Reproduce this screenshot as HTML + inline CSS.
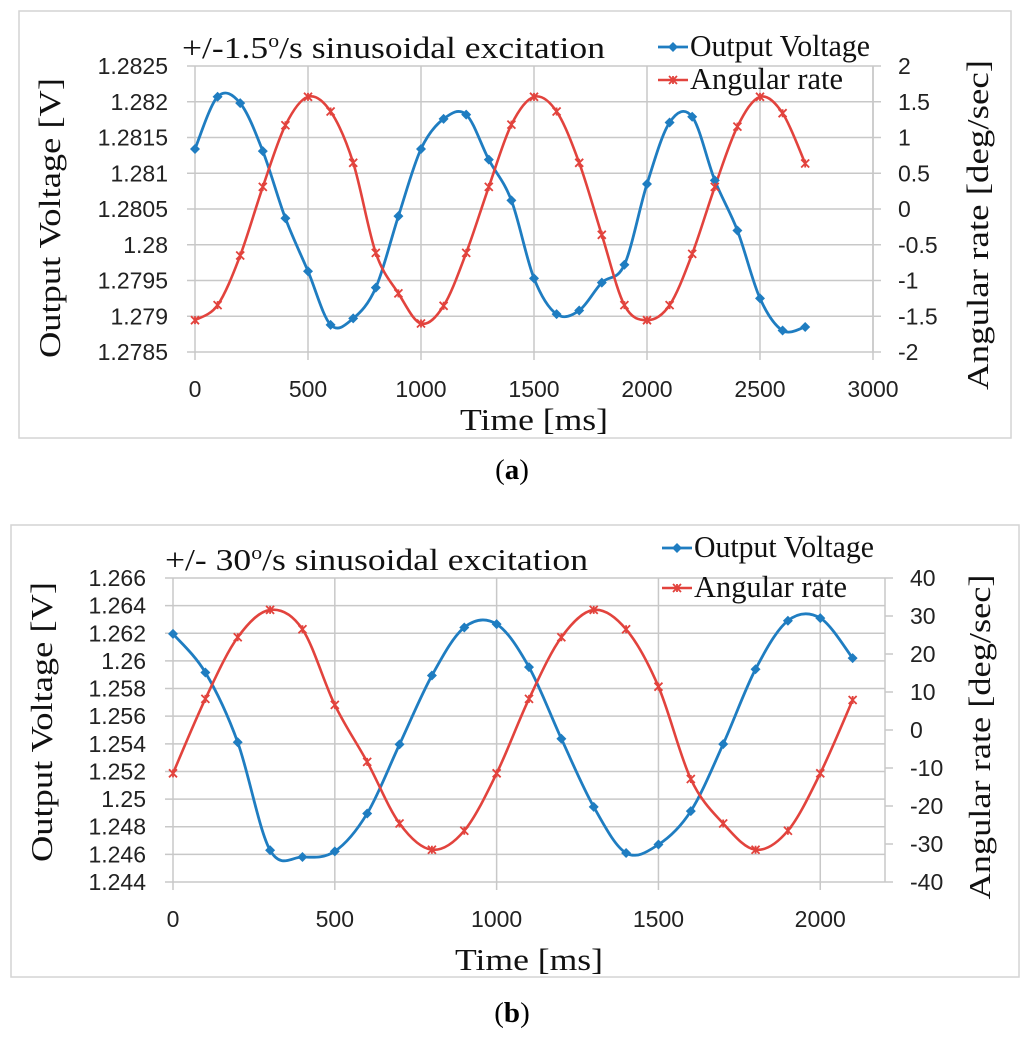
<!DOCTYPE html>
<html><head><meta charset="utf-8"><style>
html,body{margin:0;padding:0;background:#fff;}
svg{display:block;font-family:"Liberation Serif",serif;}
.tick{font-family:"Liberation Sans",sans-serif;font-size:23px;fill:#222;}
.ttl{font-size:31px;fill:#111;}
</style></head><body>
<svg id="root" width="1024" height="1039" viewBox="0 0 1024 1039">
<rect x="19" y="11" width="992" height="427" fill="#fff" stroke="#d4d4d4" stroke-width="1.5"/>
<rect x="11" y="525" width="1008" height="452" fill="#fff" stroke="#d4d4d4" stroke-width="1.5"/>
<g id="ga"></g>
<g id="gb"></g>
<text x="512" y="479" text-anchor="middle" font-size="29">(<tspan font-weight="bold">a</tspan>)</text>
<text x="512" y="1022" text-anchor="middle" font-size="29">(<tspan font-weight="bold">b</tspan>)</text>
</svg>
<script>
const timeA = [0,100,200,300,400,500,600,700,800,900,1000,1100,1200,1300,1400,1500,1600,1700,1800,1900,2000,2100,2200,2300,2400,2500,2600,2700];
const voltA = [1.28134,1.28207,1.28198,1.28131,1.28037,1.27963,1.27888,1.27897,1.27940,1.28040,1.28134,1.28176,1.28182,1.28119,1.28062,1.27953,1.27903,1.27908,1.27947,1.27972,1.28085,1.28171,1.28179,1.28090,1.28020,1.27925,1.27880,1.27885];
const rateA = [-1.555,-1.344,-0.651,0.309,1.171,1.569,1.363,0.646,-0.614,-1.180,-1.602,-1.354,-0.614,0.309,1.180,1.569,1.363,0.646,-0.361,-1.344,-1.555,-1.344,-0.628,0.309,1.152,1.569,1.340,0.637];
const yTicksA = ["1.2785","1.279","1.2795","1.28","1.2805","1.281","1.2815","1.282","1.2825"];
const y2TicksA = ["-2","-1.5","-1","-0.5","0","0.5","1","1.5","2"];
const xTicksA = ["0","500","1000","1500","2000","2500","3000"];

const timeB = [0,100,200,300,400,500,600,700,800,900,1000,1100,1200,1300,1400,1500,1600,1700,1800,1900,2000,2100];
const voltB = [1.26196,1.25916,1.25411,1.24630,1.24581,1.24622,1.24896,1.25396,1.25894,1.26242,1.26266,1.25955,1.25437,1.24944,1.24610,1.24671,1.24913,1.25398,1.25940,1.26291,1.26310,1.26020];
const rateB = [-11.4,8.2,24.4,31.6,26.5,6.6,-8.4,-24.6,-31.5,-26.5,-11.4,8.2,24.4,31.6,26.5,11.4,-12.9,-24.6,-31.5,-26.5,-11.4,7.9];
const yTicksB = ["1.244","1.246","1.248","1.25","1.252","1.254","1.256","1.258","1.26","1.262","1.264","1.266"];
const y2TicksB = ["-40","-30","-20","-10","0","10","20","30","40"];
const xTicksB = ["0","500","1000","1500","2000"];

const NS="http://www.w3.org/2000/svg";
function mk(p,tag,at,txt){const e=document.createElementNS(NS,tag);for(const k in at)e.setAttribute(k,at[k]);if(txt!==undefined)e.textContent=txt;p.appendChild(e);return e;}
function smooth(pts){let d="M"+pts[0][0]+","+pts[0][1];for(let i=0;i<pts.length-1;i++){const p0=pts[Math.max(i-1,0)],p1=pts[i],p2=pts[i+1],p3=pts[Math.min(i+2,pts.length-1)];const c1x=p1[0]+(p2[0]-p0[0])/6,c1y=p1[1]+(p2[1]-p0[1])/6,c2x=p2[0]-(p3[0]-p1[0])/6,c2y=p2[1]-(p3[1]-p1[1])/6;d+=" C"+c1x+","+c1y+" "+c2x+","+c2y+" "+p2[0]+","+p2[1];}return d;}
const BLUE="#1f7dc1",RED="#e2433d";
function diamond(g,x,y){const e=mk(g,"path",{d:`M${x},${y-5}L${x+5},${y}L${x},${y+5}L${x-5},${y}Z`,fill:BLUE});

}
function cross(g,x,y){const e=mk(g,"path",{d:`M${x-4},${y-4}L${x+4},${y+4}M${x+4},${y-4}L${x-4},${y+4}M${x},${y-4}L${x},${y+4}`,stroke:RED,"stroke-width":1.8});

}

function chart(o){
 const g=document.getElementById(o.id);
 const sx=v=>o.x0+(v-o.xmin)/(o.xmax-o.xmin)*(o.x1-o.x0);
 const sy=v=>o.y1-(v-o.ymin)/(o.ymax-o.ymin)*(o.y1-o.y0);
 const sy2=v=>o.y1-(v-o.y2min)/(o.y2max-o.y2min)*(o.y1-o.y0);
 o.yt.forEach(t=>{const y=sy(+t);const l=mk(g,"line",{x1:o.x0-8,x2:o.x1,y1:y,y2:y,stroke:"#c8c8c8","stroke-width":1.5});
  
  
  const tx=mk(g,"text",{x:o.ylx,y:y+8,"text-anchor":"end",class:"tick"},t);
  
  });
 o.y2t.forEach(t=>{const y=sy2(+t);const l=mk(g,"line",{x1:o.x1,x2:o.x1+8,y1:y,y2:y,stroke:"#c8c8c8","stroke-width":1.5});
  
  
  const tx=mk(g,"text",{x:o.y2lx,y:y+8,"text-anchor":"start",class:"tick"},t);
  
  });
 o.xt.forEach(t=>{const x=sx(+t);const l=mk(g,"line",{x1:x,x2:x,y1:o.y0,y2:o.y1+8,stroke:"#c8c8c8","stroke-width":1.5});
  
  
  const tx=mk(g,"text",{x:x,y:o.xly,"text-anchor":"middle",class:"tick"},t);
  
  });
 const ax=mk(g,"line",{x1:o.x1,x2:o.x1,y1:o.y0,y2:o.y1,stroke:"#c8c8c8","stroke-width":1.5});
 
 
 const pv=o.t.map((t,i)=>[sx(t),sy(o.v[i])]);
 const pr=o.t.map((t,i)=>[sx(t),sy2(o.r[i])]);
 const lv=mk(g,"path",{d:smooth(pv),fill:"none",stroke:BLUE,"stroke-width":2.8});
 
 
 const lr=mk(g,"path",{d:smooth(pr),fill:"none",stroke:RED,"stroke-width":2.6});
 
 
 pv.forEach(p=>diamond(g,p[0],p[1]));
 pr.forEach(p=>cross(g,p[0],p[1]));
 const tt=mk(g,"text",{x:o.tx,y:o.ty,class:"ttl",textLength:423,lengthAdjust:"spacingAndGlyphs"});
 tt.innerHTML=o.title;
 
 
 const lg1=mk(g,"line",{x1:o.lgx,x2:o.lgx+30,y1:o.lgy1-9,y2:o.lgy1-9,stroke:BLUE,"stroke-width":2.8});
 
 
 diamond(g,o.lgx+15,o.lgy1-9);
 const l1=mk(g,"text",{x:o.lgx+32,y:o.lgy1,class:"ttl","font-size":"30",textLength:180,lengthAdjust:"spacingAndGlyphs"},"Output Voltage");
 
 
 const lg2=mk(g,"line",{x1:o.lgx,x2:o.lgx+30,y1:o.lgy2-9,y2:o.lgy2-9,stroke:RED,"stroke-width":2.6});
 
 
 cross(g,o.lgx+15,o.lgy2-9);
 const l2=mk(g,"text",{x:o.lgx+32,y:o.lgy2,class:"ttl","font-size":"30",textLength:153,lengthAdjust:"spacingAndGlyphs"},"Angular rate");
 
 
 const xt=mk(g,"text",{x:(o.x0+o.x1)/2,y:o.xty,"text-anchor":"middle",class:"ttl","font-size":"36",textLength:148,lengthAdjust:"spacingAndGlyphs"},"Time [ms]");
 
 
 const yt=mk(g,"text",{x:0,y:0,"text-anchor":"middle",class:"ttl","font-size":"35",textLength:280,lengthAdjust:"spacingAndGlyphs",transform:`translate(${o.ytx},${o.ytcy}) rotate(-90)`},"Output Voltage [V]");
 
 
 const y2=mk(g,"text",{x:0,y:0,"text-anchor":"middle",class:"ttl","font-size":"35",textLength:o.y2len,lengthAdjust:"spacingAndGlyphs",transform:`translate(${o.y2tx},${o.y2tcy}) rotate(-90)`},"Angular rate [deg/sec]");
 
 
}
chart({id:"ga",t:timeA,v:voltA,r:rateA,yt:yTicksA,y2t:y2TicksA,xt:xTicksA,
 x0:195,x1:873,xmin:0,xmax:3000,y0:66,y1:352,ymin:1.2785,ymax:1.2825,y2min:-2,y2max:2,
 ylx:168,y2lx:898,xly:397,title:"+/-1.5<tspan font-size='19' dy='-11'>o</tspan><tspan dy='11'>/s sinusoidal excitation</tspan>",tx:182,ty:58,
 lgx:658,lgy1:56,lgy2:89,xty:430,ytx:60,ytcy:218,y2tx:988,y2tcy:225,y2len:330});
chart({id:"gb",t:timeB,v:voltB,r:rateB,yt:yTicksB,y2t:y2TicksB,xt:xTicksB,
 x0:173,x1:885,xmin:0,xmax:2200,y0:578,y1:882,ymin:1.244,ymax:1.266,y2min:-40,y2max:40,
 ylx:146,y2lx:910,xly:927,title:"+/- 30<tspan font-size='19' dy='-11'>o</tspan><tspan dy='11'>/s sinusoidal excitation</tspan>",tx:165,ty:570,
 lgx:662,lgy1:557,lgy2:597,xty:970,ytx:52,ytcy:722,y2tx:990,y2tcy:737,y2len:325});
</script>
</body></html>
